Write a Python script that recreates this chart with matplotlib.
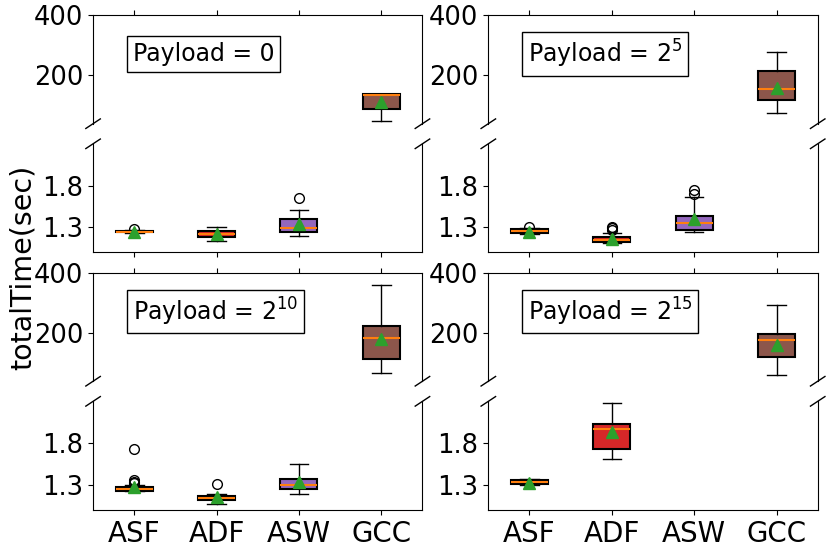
import matplotlib
matplotlib.use("Agg")
import matplotlib.pyplot as plt

# ----- data -----
tools = ["ASF", "ADF", "ASW", "GCC"]
colors = ["tab:orange", "tab:red", "tab:purple", "tab:brown"]
payloads = ["Payload = 0", "Payload = $2^5$", "Payload = $2^{10}$", "Payload = $2^{15}$"]

# per panel, per tool: whislo, q1, med, q3, whishi, mean ; None = no data
whislo = [[1.235, 1.14, 1.20, 50], [1.225, 1.11, 1.24, 75],
          [1.225, 1.075, 1.19, 67], [1.30, 1.616, None, 62]]
q1 = [[1.24, 1.19, 1.245, 89], [1.23, 1.125, 1.264, 119],
      [1.23, 1.115, 1.247, 113], [1.31, 1.727, None, 119]]
med = [[1.25, 1.225, 1.29, 136], [1.26, 1.155, 1.35, 155],
       [1.25, 1.14, 1.296, 182], [1.333, 1.97, None, 177]]
q3 = [[1.26, 1.26, 1.404, 138], [1.28, 1.18, 1.44, 213],
      [1.28, 1.165, 1.374, 222], [1.357, 2.025, None, 198]]
whishi = [[1.27, 1.31, 1.51, 140], [1.29, 1.23, 1.66, 279],
          [1.30, 1.19, 1.55, 359], [1.37, 2.28, None, 292]]
means = [[1.25, 1.22, 1.34, 112], [1.25, 1.16, 1.40, 159],
         [1.28, 1.15, 1.33, 180], [1.32, 1.93, None, 160]]
fliers = [[[1.285], [], [1.65], []],
          [[1.31], [1.31, 1.29, 1.27], [1.75, 1.70], []],
          [[1.73, 1.36, 1.34, 1.32], [1.31], [], []],
          [[], [], [], []]]

top_ylim = (40, 400)
bot_ylim = (1.0, 2.3)


def panel_stats(p):
    stats, pos, cols = [], [], []
    for i, name in enumerate(tools):
        if med[p][i] is None:
            continue
        stats.append(dict(label=name, whislo=whislo[p][i], q1=q1[p][i],
                          med=med[p][i], q3=q3[p][i], whishi=whishi[p][i],
                          mean=means[p][i], fliers=fliers[p][i]))
        pos.append(i + 1)
        cols.append(colors[i])
    return stats, pos, cols


def draw(ax, p):
    stats, pos, cols = panel_stats(p)
    bp = ax.bxp(stats, positions=pos, widths=0.45, patch_artist=True,
                showmeans=True,
                meanprops=dict(marker="^", markerfacecolor="tab:green",
                               markeredgecolor="tab:green", markersize=8),
                medianprops=dict(color="tab:orange", linewidth=1.5),
                flierprops=dict(marker="o", markerfacecolor="none",
                                markeredgecolor="black", markersize=7))
    for box, c in zip(bp["boxes"], cols):
        box.set_facecolor(c)
        box.set_edgecolor("black")
        box.set_linewidth(1.5)
    ax.set_xlim(0.5, 4.5)
    ax.set_xticks(range(1, 5))


fig = plt.figure(figsize=(8.31, 5.48), dpi=100)
gs = fig.add_gridspec(4, 2, left=0.112, right=0.984, top=0.9726, bottom=0.0693,
                      hspace=0.185, wspace=0.2)

d = 0.022
for p in range(4):
    row, col = divmod(p, 2)
    ax_t = fig.add_subplot(gs[2 * row, col])
    ax_b = fig.add_subplot(gs[2 * row + 1, col])
    draw(ax_t, p)
    draw(ax_b, p)

    ax_t.set_ylim(*top_ylim)
    ax_t.set_yticks([200, 400])
    ax_b.set_ylim(*bot_ylim)
    ax_b.set_yticks([1.3, 1.8])

    ax_t.spines["bottom"].set_visible(False)
    ax_b.spines["top"].set_visible(False)
    ax_t.xaxis.tick_top()
    ax_t.tick_params(labeltop=False)
    ax_b.xaxis.tick_bottom()
    if row == 0:
        ax_b.set_xticklabels([])
    else:
        ax_b.set_xticklabels(tools)
    for a in (ax_t, ax_b):
        a.tick_params(axis="y", labelsize=18.5)
        a.tick_params(axis="x", labelsize=20)

    # break marks
    kw = dict(transform=ax_t.transAxes, color="k", clip_on=False, lw=1)
    ax_t.plot((-d, +d), (-d * 2, +d * 2), **kw)
    ax_t.plot((1 - d, 1 + d), (-d * 2, +d * 2), **kw)
    kw.update(transform=ax_b.transAxes)
    ax_b.plot((-d, +d), (1 - d * 2, 1 + d * 2), **kw)
    ax_b.plot((1 - d, 1 + d), (1 - d * 2, 1 + d * 2), **kw)

    ax_t.text(0.12, 0.64, payloads[p], transform=ax_t.transAxes,
              fontsize=17, ha="left", va="center",
              bbox=dict(facecolor="white", edgecolor="black", pad=4))

fig.text(0.027, 0.512, "totalTime(sec)", rotation=90, va="center", ha="center",
         fontsize=20.5)

fig.savefig("out.png", dpi=100)
